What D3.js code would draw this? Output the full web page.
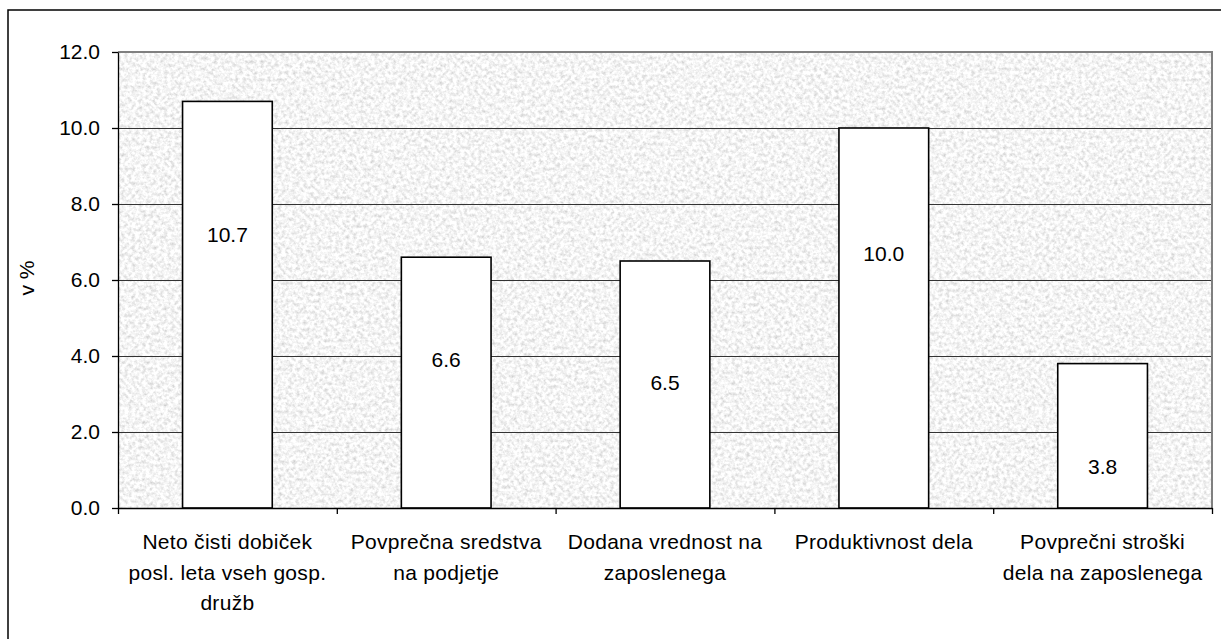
<!DOCTYPE html>
<html>
<head>
<meta charset="utf-8">
<script src="https://cdn.jsdelivr.net/npm/d3@7"></script>
<style>
  body { margin: 0; background: #fff; }
  text { font-family: "Liberation Sans", Arial, sans-serif; fill: #000; }
</style>
</head>
<body>
<script>
// chart data
const categories = [
  ["Neto čisti dobiček", "posl. leta vseh gosp.", "družb"],
  ["Povprečna sredstva", "na podjetje"],
  ["Dodana vrednost na", "zaposlenega"],
  ["Produktivnost dela"],
  ["Povprečni stroški", "dela na zaposlenega"]
];
const values = [10.7, 6.6, 6.5, 10.0, 3.8];
const yTicks = [0, 2, 4, 6, 8, 10, 12];
const yTitle = "v %";

// where each value label sits inside its bar (in axis units)
const labelAt = [7.2, 3.9, 3.3, 6.7, 1.1];

const width = 1221, height = 639;
const margin = { top: 52, right: 9, bottom: 131, left: 118 };

const svg = d3.select("body")
  .append("svg")
  .attr("width", width)
  .attr("height", height);

// outer chart frame (runs off the right and bottom edge)
svg.append("rect")
  .attr("x", 8).attr("y", 10)
  .attr("width", width).attr("height", height)
  .attr("fill", "none")
  .attr("stroke", "#000")
  .attr("stroke-width", 1.5);

// speckled grey plot background
const defs = svg.append("defs");
const noise = defs.append("filter")
  .attr("id", "speckle")
  .attr("x", 0).attr("y", 0).attr("width", 1).attr("height", 1);
noise.append("feTurbulence")
  .attr("type", "fractalNoise")
  .attr("baseFrequency", 0.28)
  .attr("numOctaves", 3)
  .attr("seed", 7);
noise.append("feColorMatrix")
  .attr("type", "matrix")
  .attr("values", "0.7 0 0 0 0.56  0.7 0 0 0 0.56  0.7 0 0 0 0.56  0 0 0 0 1");

const x = d3.scaleBand()
  .domain(d3.range(categories.length))
  .range([margin.left, width - margin.right])
  .paddingInner(0.59)
  .paddingOuter(0.295);

const xEdge = d3.scaleLinear()
  .domain([0, categories.length])
  .range([margin.left, width - margin.right]);

const y = d3.scaleLinear()
  .domain([0, 12])
  .range([height - margin.bottom, margin.top]);

svg.append("rect")
  .attr("x", margin.left).attr("y", margin.top)
  .attr("width", width - margin.right - margin.left)
  .attr("height", height - margin.bottom - margin.top)
  .attr("filter", "url(#speckle)");

// gridlines
svg.append("g")
  .selectAll("line")
  .data(yTicks.filter(t => t > 0 && t < 12))
  .join("line")
  .attr("x1", margin.left).attr("x2", width - margin.right)
  .attr("y1", d => y(d) + 0.5).attr("y2", d => y(d) + 0.5)
  .attr("stroke", "#333")
  .attr("stroke-width", 1);

// grey plot border, top and right
svg.append("path")
  .attr("d", `M${margin.left},${y(12)}H${width - margin.right}V${y(0)}`)
  .attr("fill", "none")
  .attr("stroke", "#808080")
  .attr("stroke-width", 2);

// bars
svg.append("g")
  .selectAll("rect")
  .data(values)
  .join("rect")
  .attr("x", (d, i) => x(i))
  .attr("y", d => y(d))
  .attr("width", x.bandwidth())
  .attr("height", d => y(0) - y(d))
  .attr("fill", "#fff")
  .attr("stroke", "#000")
  .attr("stroke-width", 1.6);

// value labels
svg.append("g")
  .selectAll("text")
  .data(values)
  .join("text")
  .attr("x", (d, i) => x(i) + x.bandwidth() / 2)
  .attr("y", (d, i) => y(labelAt[i]))
  .attr("dy", "0.36em")
  .attr("text-anchor", "middle")
  .style("font-size", "21px")
  .text(d => d.toFixed(1));

// y axis
const yAxis = svg.append("g")
  .attr("transform", `translate(${margin.left},0)`)
  .call(d3.axisLeft(y)
    .tickValues(yTicks)
    .tickFormat(d3.format(".1f"))
    .tickSize(6)
    .tickSizeOuter(0)
    .tickPadding(12));
yAxis.selectAll("text").style("font-size", "21px").attr("fill", "#000");
yAxis.selectAll("line, path").attr("stroke", "#000").attr("stroke-width", 1.3);

// x axis: ticks between categories
const xAxis = svg.append("g")
  .attr("transform", `translate(0,${y(0)})`)
  .call(d3.axisBottom(xEdge)
    .ticks(categories.length)
    .tickFormat("")
    .tickSize(6)
    .tickSizeOuter(0));
xAxis.selectAll("line, path").attr("stroke", "#000").attr("stroke-width", 1.3);

// category labels
const catLabels = svg.append("g")
  .selectAll("text")
  .data(categories)
  .join("text")
  .attr("text-anchor", "middle")
  .attr("x", (d, i) => x(i) + x.bandwidth() / 2)
  .attr("y", y(0) + 41)
  .style("font-size", "21px")
  .style("letter-spacing", "0.3px");

catLabels.selectAll("tspan")
  .data(d => d)
  .join("tspan")
  .attr("x", function() { return this.parentNode.getAttribute("x"); })
  .attr("dy", (d, i) => i === 0 ? 0 : 30.5)
  .text(d => d);

// y axis title
svg.append("text")
  .attr("transform", "rotate(-90)")
  .attr("x", -(margin.top + y(0)) / 2 + 2)
  .attr("y", 34)
  .attr("text-anchor", "middle")
  .style("font-size", "21px")
  .text(yTitle);
</script>
</body>
</html>
